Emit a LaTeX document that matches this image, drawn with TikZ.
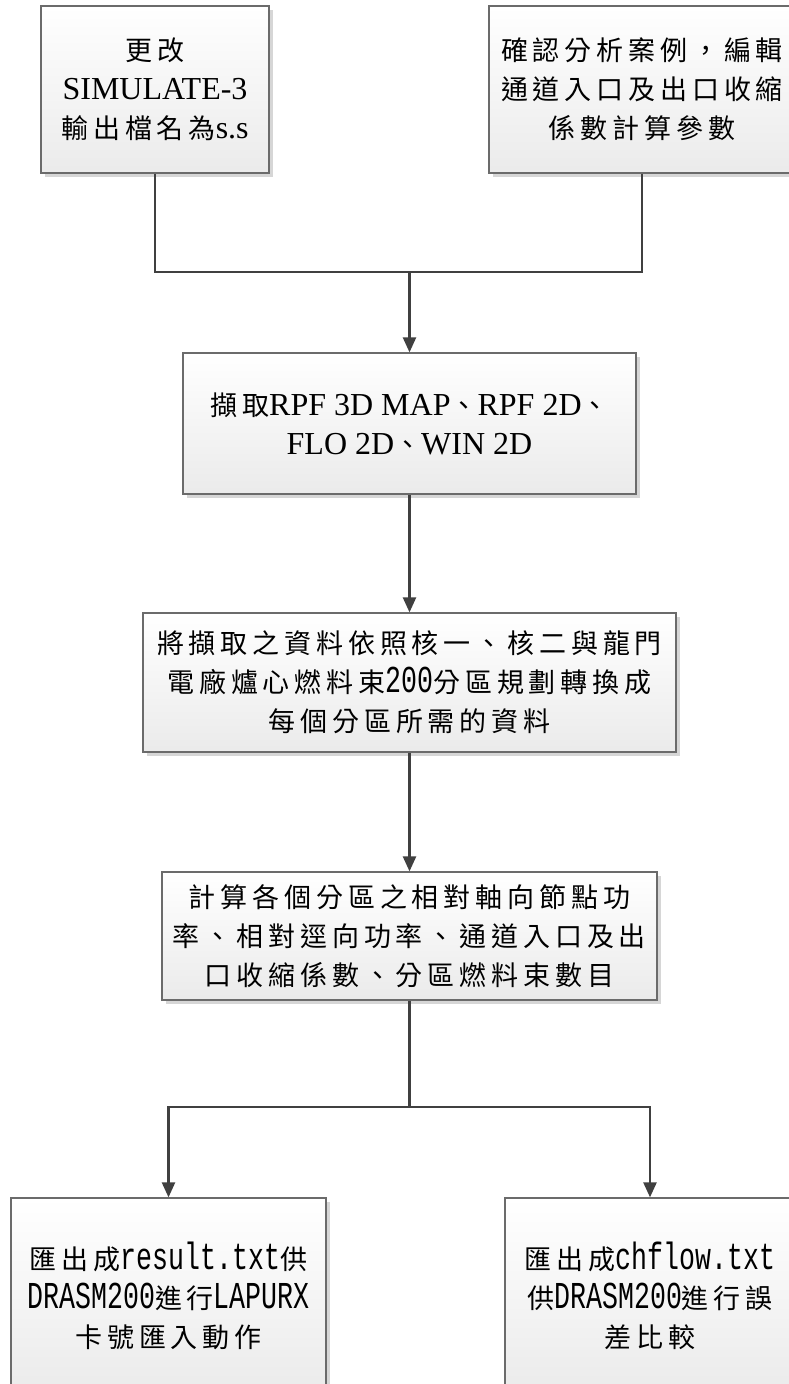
\documentclass[tikz,border=0pt]{standalone}
\usepackage{fontspec}
\setmainfont{Noto Sans CJK TC}[LetterSpace=18]
\newfontfamily\tnr{Liberation Serif}
\newfontfamily\nmono[FakeStretch=0.7]{Liberation Mono}
\newcommand\TT[1]{{\tnr\fontsize{32}{39}\selectfont #1}}
\newcommand\MM[1]{{\nmono\fontsize{38}{39}\selectfont #1}}
\usetikzlibrary{arrows.meta,shadows}
\tikzset{
  box/.style={draw=black!58, line width=1.3pt, top color=white, bottom color=black!8,
    inner sep=0pt, align=center, font=\fontsize{27}{39}\selectfont,
    drop shadow={shadow xshift=4pt, shadow yshift=-4pt, fill=black!16, opacity=1}},
  conn/.style={draw=black!75, line width=2.4pt},
  arr/.style={conn, -{Triangle[length=15pt,width=13pt]}}
}
\begin{document}
\begin{tikzpicture}[x=1pt,y=-1pt]
\useasboundingbox (0,0) rectangle (789,1384);
\fill[white] (0,0) rectangle (789,1384);

\node[box, minimum width=228pt, minimum height=167pt] (b1) at (155,89.5)
  {更改\\\TT{SIMULATE-3}\\輸出檔名為\TT{s.s}};
\node[box, minimum width=306pt, minimum height=167pt] (b2) at (642,89.5)
  {確認分析案例，編輯\\通道入口及出口收縮\\係數計算參數};
\node[box, minimum width=453pt, minimum height=141pt] (b3) at (409.5,423.5)
  {擷取\TT{RPF 3D MAP}、\TT{RPF 2D}、\\\TT{FLO 2D}、\TT{WIN 2D}};
\node[box, minimum width=533pt, minimum height=139pt] (b4) at (409.5,682.5)
  {將擷取之資料依照核一、核二與龍門\\電廠爐心燃料束\MM{200}分區規劃轉換成\\每個分區所需的資料};
\node[box, minimum width=495pt, minimum height=128pt] (b5) at (409.5,936)
  {計算各個分區之相對軸向節點功\\率、相對逕向功率、通道入口及出\\口收縮係數、分區燃料束數目};
\node[box, minimum width=315pt, minimum height=196pt] (b6) at (168.5,1296)
  {匯出成\MM{result.txt}供\\\MM{DRASM200}進行\MM{LAPURX}\\卡號匯入動作};
\node[box, minimum width=290pt, minimum height=196pt] (b7) at (650,1296)
  {匯出成\MM{chflow.txt}\\供\MM{DRASM200}進行誤\\差比較};

\coordinate (j1) at (409.5,272);
\coordinate (j2) at (409.5,1107);
\draw[conn] (b1.south) |- (j1);
\draw[conn] (b2.south) |- (j1);
\draw[arr] (j1) -- (b3.north);
\draw[arr] (b3.south) -- (b4.north);
\draw[arr] (b4.south) -- (b5.north);
\draw[conn] (b5.south) -- (j2);
\draw[arr] (j2) -| (b6.north);
\draw[arr] (j2) -| (b7.north);
\end{tikzpicture}
\end{document}
